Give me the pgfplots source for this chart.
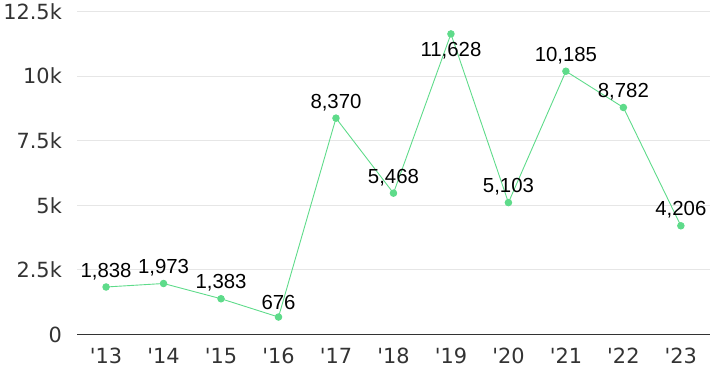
\documentclass[border=0pt]{standalone}
\usepackage{fontspec}
\setmainfont{Liberation Sans}
\newfontfamily\tickfont{DejaVu Sans}
\usepackage{pgfplots}
\pgfplotsset{compat=1.18}
\definecolor{lgreen}{HTML}{5EDB8A}
\definecolor{gridc}{HTML}{E6E6E6}
\definecolor{tickc}{HTML}{333333}
\newcommand{\q}{\textquotesingle}
\begin{document}
\begin{tikzpicture}[x=1bp,y=1bp]
\begin{axis}[
  scale only axis,
  width=634bp, height=324bp,
  xmin=-0.5, xmax=10.5, ymin=0, ymax=12500,
  axis line style={draw=none},
  scaled y ticks=false,
  ymajorgrids, grid style={gridc, line width=0.8pt},
  xtick={0,...,10},
  xticklabels={\q13,\q14,\q15,\q16,\q17,\q18,\q19,\q20,\q21,\q22,\q23},
  ytick={0,2500,5000,7500,10000,12500},
  yticklabels={0,2.5k,5k,7.5k,10k,12.5k},
  tick style={draw=none},
  ticklabel style={font=\tickfont\fontsize{21}{24}\selectfont, text=tickc},
  yticklabel style={xshift=-12bp},
  xticklabel style={yshift=-10bp},
  /pgf/number format/assume math mode=true,
  clip=false,
]
\draw[tickc, line width=0.8pt] (axis cs:-0.5,0) -- (axis cs:10.5,0);
\addplot[lgreen, line width=0.9pt, mark=*, mark size=3.3pt, mark options={fill=lgreen, draw=lgreen}]
 coordinates {(0,1838)(1,1973)(2,1383)(3,676)(4,8370)(5,5468)(6,11628)(7,5103)(8,10185)(9,8782)(10,4206)};
\addplot[draw=none, mark=none,
  nodes near coords={\pgfmathprintnumber[1000 sep={,}, assume math mode=true]{\pgfplotspointmeta}},
  nodes near coords style={anchor=south, inner sep=0pt, yshift=7bp, font=\fontsize{20.5}{24}\selectfont, text=black}]
 coordinates {(0,1838)(1,1973)(2,1383)(3,676)(4,8370)(5,5468)(7,5103)(8,10185)(9,8782)(10,4206)};
\addplot[draw=none, mark=none,
  nodes near coords={\pgfmathprintnumber[1000 sep={,}, assume math mode=true]{\pgfplotspointmeta}},
  nodes near coords style={anchor=north, inner sep=0pt, yshift=-8bp, font=\fontsize{20.5}{24}\selectfont, text=black}]
 coordinates {(6,11628)};
\end{axis}
\end{tikzpicture}
\end{document}
